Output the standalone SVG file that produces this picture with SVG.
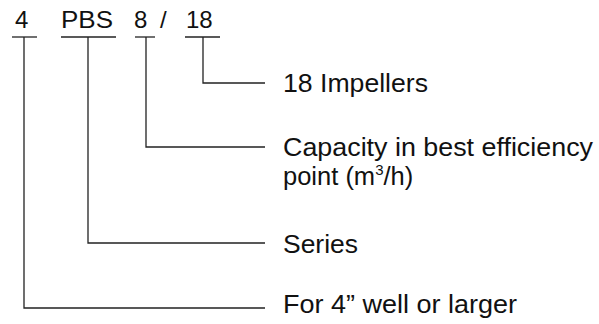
<svg xmlns="http://www.w3.org/2000/svg" width="599" height="324" viewBox="0 0 599 324">
<style>
.t{font-family:"Liberation Sans",Arial,sans-serif;fill:#111;}
.top{font-size:24px;}
.lbl{font-size:25.5px;}
.ln{stroke:#222;stroke-width:1.3;fill:none;}
</style>
<rect width="599" height="324" fill="#fff"/>
<g id="code-4"><text class="t top" x="15" y="28">4</text><line class="ln" x1="12" y1="37" x2="37" y2="37"/></g>
<g id="code-PBS"><text class="t top" x="61" y="28" textLength="52" lengthAdjust="spacingAndGlyphs">PBS</text><line class="ln" x1="61" y1="37" x2="116" y2="37"/></g>
<g id="code-8"><text class="t top" x="134" y="28">8</text><line class="ln" x1="135" y1="37" x2="155" y2="37"/></g>
<g id="code-slash"><text class="t top" x="160" y="28">/</text></g>
<g id="code-18"><text class="t top" x="186" y="28">18</text><line class="ln" x1="185" y1="37" x2="220" y2="37"/></g>
<g id="label-impellers"><text class="t lbl" x="283" y="92" textLength="145" lengthAdjust="spacingAndGlyphs">18 Impellers</text></g>
<g id="label-capacity"><text class="t lbl" x="283" y="156" textLength="310" lengthAdjust="spacingAndGlyphs">Capacity in best efficiency</text><text class="t lbl" x="283" y="185">point (m<tspan font-size="15" dy="-10">3</tspan><tspan dy="10">/h)</tspan></text></g>
<g id="label-series"><text class="t lbl" x="283" y="253" textLength="75" lengthAdjust="spacingAndGlyphs">Series</text></g>
<g id="label-well"><text class="t lbl" x="283" y="313" textLength="234" lengthAdjust="spacingAndGlyphs">For 4” well or larger</text></g>
<g id="connectors">
<polyline class="ln" points="203,37 203,83 265,83"/>
<polyline class="ln" points="146,37 146,147 265,147"/>
<polyline class="ln" points="88,37 88,243 265,243"/>
<polyline class="ln" points="24,37 24,308 265,308"/>
</g>
</svg>
